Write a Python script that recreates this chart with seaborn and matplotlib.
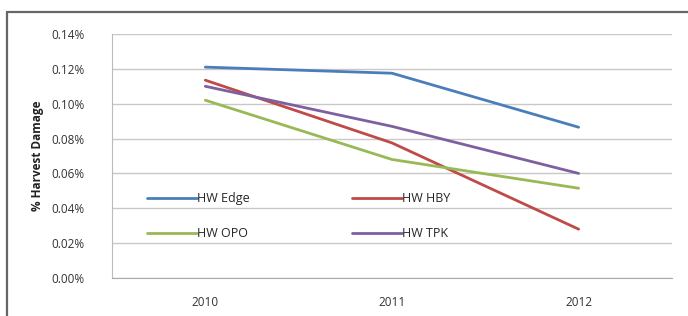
import matplotlib
matplotlib.use("Agg")
import matplotlib.pyplot as plt
from matplotlib.lines import Line2D
from matplotlib.ticker import PercentFormatter
import pandas as pd
import seaborn as sns

# Data (% harvest damage)
years = ["2010", "2011", "2012"]
series_names = ["HW Edge", "HW HBY", "HW OPO", "HW TPK"]
hw_edge = [0.121, 0.1175, 0.0865]
hw_hby = [0.1135, 0.0775, 0.028]
hw_opo = [0.102, 0.068, 0.0515]
hw_tpk = [0.110, 0.087, 0.060]
y_ticks = [0.00, 0.02, 0.04, 0.06, 0.08, 0.10, 0.12, 0.14]

colors = {"HW Edge": "#4A7EBB", "HW HBY": "#BE4B48",
          "HW OPO": "#98B954", "HW TPK": "#7D60A0"}

rows = []
for name, vals in zip(series_names, [hw_edge, hw_hby, hw_opo, hw_tpk]):
    for yr, v in zip(years, vals):
        rows.append({"Year": yr, "Damage": v, "Series": name})
df = pd.DataFrame(rows)

sns.set_style("white")
plt.rcParams["font.family"] = ["Open Sans", "DejaVu Sans"]

fig = plt.figure(figsize=(6.88, 3.16), dpi=100)
ax = fig.add_axes([0.1628, 0.1203, 0.8139, 0.7721])

sns.lineplot(data=df, x="Year", y="Damage", hue="Series", hue_order=series_names,
             palette=colors, linewidth=2.0, ax=ax, sort=False)

ax.set_xlim(-0.5, 2.5)
ax.set_ylim(0, 0.14)
ax.set_yticks(y_ticks)
ax.yaxis.set_major_formatter(PercentFormatter(decimals=2))
ax.grid(axis="y", color="#c8c8c8", linewidth=1)
ax.set_axisbelow(True)
ax.tick_params(axis="y", length=0, labelsize=8.5, labelcolor="#333333", pad=20)
ax.tick_params(axis="x", length=0, labelsize=8.5, labelcolor="#333333", pad=13)
ax.set_xlabel("")
ax.set_ylabel("% Harvest Damage", fontsize=8.5, fontweight="bold", color="#222222", labelpad=5)

for side in ["top", "right"]:
    ax.spines[side].set_visible(False)
ax.spines["left"].set_color("#bbbbbb")
ax.spines["bottom"].set_color("#aaaaaa")

# legend filled row by row: Edge, HBY / OPO, TPK
handles, labels = ax.get_legend_handles_labels()
order = [0, 2, 1, 3]
ax.legend([handles[i] for i in order], [labels[i] for i in order],
          loc="lower left", bbox_to_anchor=(0.053, 0.135), ncol=2, frameon=False,
          fontsize=9, handlelength=4.0, handletextpad=0.0, columnspacing=8.2,
          labelspacing=1.75, borderaxespad=0)

# outer chart frame, cropped like the reference
top = 1 - 11.5 / 316
frame = dict(color="#666666", linewidth=1.6, transform=fig.transFigure, zorder=10)
fig.add_artist(Line2D([7 / 688, 7 / 688], [0, top], **frame))
fig.add_artist(Line2D([7 / 688, 1.0], [top, top], **frame))

fig.savefig("out.png", dpi=100)
